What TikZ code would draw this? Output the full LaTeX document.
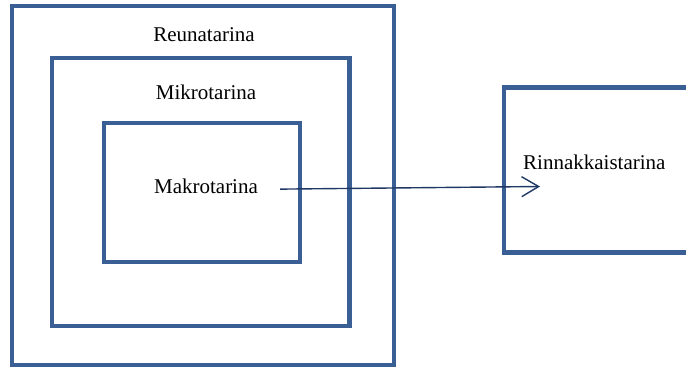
\documentclass[tikz,border=0pt]{standalone}
\usepackage{fontspec}
\setmainfont{Liberation Serif}
\usepackage{tikz}
\usetikzlibrary{calc,arrows.meta}

\definecolor{boxblue}{HTML}{3A5F94}
\definecolor{arrowblue}{HTML}{1F3864}

\begin{document}
\begin{tikzpicture}[x=1pt, y=-1pt,
    storybox/.style={rectangle, draw=boxblue, line width=4.5pt, inner sep=0pt},
    storylabel/.style={inner sep=0pt, anchor=base, font=\fontsize{21}{25}\selectfont},
    arrowline/.style={draw=arrowblue, line width=1.4pt, -{Straight Barb[length=17pt, width=20pt, line width=1.4pt]}}]
    \clip (0,0) rectangle (686,367);

    \node[storybox, minimum width=382pt, minimum height=359pt] (reuna) at (203,185.5) {};
    
    \node[storybox, minimum width=297.5pt, minimum height=268pt] (mikro) at (200.75,192) {};
    
    \node[storybox, minimum width=196pt, minimum height=139pt] (makro) at (202,192.5) {};
    
    \node[storybox, minimum width=186pt, minimum height=165pt] (rinnakkais) at (597,170) {};
    
    
    \node[storylabel] (reunalabel) at (204,41) {Reunatarina};
    
    \node[storylabel] (mikrolabel) at (206,99) {Mikrotarina};
    
    \node[storylabel] (makrolabel) at (206,193.3) {Makrotarina};
    
    \node[storylabel, anchor=base west] (rinnakkaislabel) at (523,169) {Rinnakkaistarina};
    
    
    \coordinate (from) at ($(makrolabel.east) + (22,3)$);
    \coordinate (tip) at ($(rinnakkaislabel.base west) + (17,17.5)$);
    
    \draw[arrowline] (from) -- (tip);
    
    \end{tikzpicture}
\end{document}
